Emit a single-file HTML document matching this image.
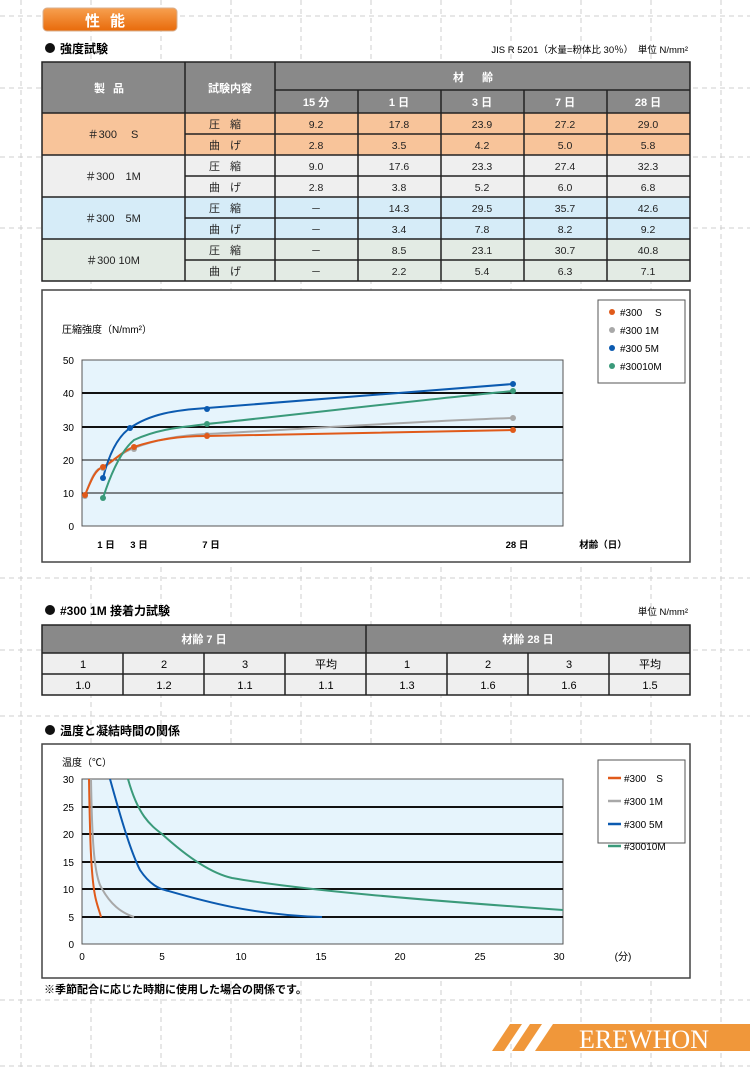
<!DOCTYPE html>
<html><head><meta charset="utf-8"><style>
body{margin:0;width:750px;height:1071px;position:relative;background:#fff;font-family:"Liberation Sans","Noto Sans CJK JP",sans-serif;color:#222;overflow:hidden}
.a{position:absolute}
svg text{font-family:"Liberation Sans","Noto Sans CJK JP",sans-serif}
</style></head><body>
<svg class="a" style="left:0;top:0" width="750" height="1071">
<g stroke="#cfcfcf" stroke-width="1" stroke-dasharray="5,4">
<line x1="21" y1="0" x2="21" y2="1071"/><line x1="91" y1="0" x2="91" y2="1071"/><line x1="161" y1="0" x2="161" y2="1071"/><line x1="231" y1="0" x2="231" y2="1071"/><line x1="301" y1="0" x2="301" y2="1071"/><line x1="371" y1="0" x2="371" y2="1071"/><line x1="441" y1="0" x2="441" y2="1071"/><line x1="511" y1="0" x2="511" y2="1071"/><line x1="581" y1="0" x2="581" y2="1071"/><line x1="651" y1="0" x2="651" y2="1071"/><line x1="721" y1="0" x2="721" y2="1071"/>
<line x1="0" y1="16" x2="750" y2="16"/><line x1="0" y1="88" x2="750" y2="88"/><line x1="0" y1="157" x2="750" y2="157"/><line x1="0" y1="228" x2="750" y2="228"/><line x1="0" y1="578" x2="750" y2="578"/><line x1="0" y1="650" x2="750" y2="650"/><line x1="0" y1="716" x2="750" y2="716"/><line x1="0" y1="1000" x2="750" y2="1000"/><line x1="0" y1="1066" x2="750" y2="1066"/>
</g>
<defs><linearGradient id="og" x1="0" y1="0" x2="0" y2="1"><stop offset="0" stop-color="#f7a050"/><stop offset="1" stop-color="#e86a0a"/></linearGradient></defs>
<rect x="43" y="8" width="134" height="23" rx="4" fill="url(#og)" stroke="#d8b090"/>
<text x="110" y="26" font-size="15" font-weight="bold" fill="#fff" text-anchor="middle" letter-spacing="10">性能</text>
<circle cx="50" cy="48" r="5" fill="#111"/>
<text x="60" y="53" font-size="12" font-weight="bold">強度試験</text>
<text x="688" y="53" font-size="9.5" text-anchor="end">JIS R 5201（水量=粉体比 30％）　単位 N/mm²</text>

<rect x="42" y="62" width="648" height="51" fill="#898989"/>
<rect x="42" y="113" width="648" height="42" fill="#f8c49a"/>
<rect x="42" y="155" width="648" height="42" fill="#efefef"/>
<rect x="42" y="197" width="648" height="42" fill="#d6ecf8"/>
<rect x="42" y="239" width="648" height="42" fill="#e3ebe4"/>
<g stroke="#222" stroke-width="1.5" fill="none">
<rect x="42" y="62" width="648" height="219"/>
<line x1="185" y1="62" x2="185" y2="281"/><line x1="275" y1="62" x2="275" y2="281"/>
<line x1="358" y1="90" x2="358" y2="281"/><line x1="441" y1="90" x2="441" y2="281"/><line x1="524" y1="90" x2="524" y2="281"/><line x1="607" y1="90" x2="607" y2="281"/>
<line x1="275" y1="90" x2="690" y2="90"/>
<line x1="42" y1="113" x2="690" y2="113"/><line x1="42" y1="155" x2="690" y2="155"/><line x1="42" y1="197" x2="690" y2="197"/><line x1="42" y1="239" x2="690" y2="239"/>
<line x1="185" y1="134" x2="690" y2="134"/><line x1="185" y1="176" x2="690" y2="176"/><line x1="185" y1="218" x2="690" y2="218"/><line x1="185" y1="260" x2="690" y2="260"/>
</g>
<g font-size="11" fill="#fff" font-weight="bold" text-anchor="middle">
<text x="113" y="92" letter-spacing="8">製品</text><text x="230" y="92">試験内容</text><text x="482" y="81" letter-spacing="18">材齢</text>
<text x="316" y="106">15 分</text><text x="399" y="106">1 日</text><text x="482" y="106">3 日</text><text x="565" y="106">7 日</text><text x="648" y="106">28 日</text>
</g>
<g font-size="11" text-anchor="middle" fill="#222">
<text x="113" y="138">＃300　 S</text><text x="113" y="180">＃300　1M</text><text x="113" y="222">＃300　5M</text><text x="113" y="264">＃300 10M</text>
<text x="230" y="128" letter-spacing="10">圧縮</text><text x="230" y="149" letter-spacing="10">曲げ</text>
<text x="230" y="170" letter-spacing="10">圧縮</text><text x="230" y="191" letter-spacing="10">曲げ</text>
<text x="230" y="212" letter-spacing="10">圧縮</text><text x="230" y="233" letter-spacing="10">曲げ</text>
<text x="230" y="254" letter-spacing="10">圧縮</text><text x="230" y="275" letter-spacing="10">曲げ</text>
<g font-size="10.5">
<text x="316" y="128">9.2</text><text x="399" y="128">17.8</text><text x="482" y="128">23.9</text><text x="565" y="128">27.2</text><text x="648" y="128">29.0</text>
<text x="316" y="149">2.8</text><text x="399" y="149">3.5</text><text x="482" y="149">4.2</text><text x="565" y="149">5.0</text><text x="648" y="149">5.8</text>
<text x="316" y="170">9.0</text><text x="399" y="170">17.6</text><text x="482" y="170">23.3</text><text x="565" y="170">27.4</text><text x="648" y="170">32.3</text>
<text x="316" y="191">2.8</text><text x="399" y="191">3.8</text><text x="482" y="191">5.2</text><text x="565" y="191">6.0</text><text x="648" y="191">6.8</text>
<text x="316" y="212">－</text><text x="399" y="212">14.3</text><text x="482" y="212">29.5</text><text x="565" y="212">35.7</text><text x="648" y="212">42.6</text>
<text x="316" y="233">－</text><text x="399" y="233">3.4</text><text x="482" y="233">7.8</text><text x="565" y="233">8.2</text><text x="648" y="233">9.2</text>
<text x="316" y="254">－</text><text x="399" y="254">8.5</text><text x="482" y="254">23.1</text><text x="565" y="254">30.7</text><text x="648" y="254">40.8</text>
<text x="316" y="275">－</text><text x="399" y="275">2.2</text><text x="482" y="275">5.4</text><text x="565" y="275">6.3</text><text x="648" y="275">7.1</text>
</g></g>

<rect x="42" y="290" width="648" height="272" fill="#fff" stroke="#444" stroke-width="1.5"/>
<rect x="82" y="360" width="481" height="166" fill="#e6f4fc" stroke="#555"/>
<g stroke="#111"><line x1="82" y1="393" x2="563" y2="393" stroke-width="2"/><line x1="82" y1="427" x2="563" y2="427" stroke-width="2"/><line x1="82" y1="460" x2="563" y2="460"/><line x1="82" y1="493" x2="563" y2="493"/></g>
<g font-size="10" text-anchor="end"><text x="74" y="364">50</text><text x="74" y="397">40</text><text x="74" y="431">30</text><text x="74" y="464">20</text><text x="74" y="497">10</text><text x="74" y="530">0</text></g>
<text x="62" y="333" font-size="10">圧縮強度（N/mm²）</text>
<g font-size="9.5" font-weight="bold" text-anchor="middle"><text x="106" y="548">1 日</text><text x="139" y="548">3 日</text><text x="211" y="548">7 日</text><text x="517" y="548">28 日</text><text x="603" y="548">材齢（日）</text></g>
<g fill="none" stroke-width="2">
<path d="M85,496 C92,475 97,467 103,468 C112,462 122,452 134,448 C160,438 185,435 207,434 C320,428 420,421 513,418" stroke="#a8a8a8"/>
<path d="M85,495 C92,478 96,469 103,467 C115,460 124,450 134,447 C160,438 185,436 207,436 C320,434 420,432 513,430" stroke="#e05a1a"/>
<path d="M103,478 C110,450 120,435 130,428 C150,414 175,410 207,408 C320,399 420,392 513,384" stroke="#0b5ab0"/>
<path d="M103,498 C112,470 122,450 134,440 C160,428 185,427 207,424 C320,412 420,400 513,391" stroke="#3a9a7a"/>
</g>
<g>
<circle cx="85" cy="496" r="3" fill="#a8a8a8"/><circle cx="103" cy="468" r="3" fill="#a8a8a8"/><circle cx="134" cy="449" r="3" fill="#a8a8a8"/><circle cx="207" cy="435" r="3" fill="#a8a8a8"/><circle cx="513" cy="418" r="3" fill="#a8a8a8"/>
<circle cx="85" cy="495" r="3" fill="#e05a1a"/><circle cx="103" cy="467" r="3" fill="#e05a1a"/><circle cx="134" cy="447" r="3" fill="#e05a1a"/><circle cx="207" cy="436" r="3" fill="#e05a1a"/><circle cx="513" cy="430" r="3" fill="#e05a1a"/>
<circle cx="103" cy="478" r="3" fill="#0b5ab0"/><circle cx="130" cy="428" r="3" fill="#0b5ab0"/><circle cx="207" cy="409" r="3" fill="#0b5ab0"/><circle cx="513" cy="384" r="3" fill="#0b5ab0"/>
<circle cx="103" cy="498" r="3" fill="#3a9a7a"/><circle cx="207" cy="424" r="3" fill="#3a9a7a"/><circle cx="513" cy="391" r="3" fill="#3a9a7a"/>
</g>
<rect x="598" y="300" width="87" height="83" fill="#fff" stroke="#555"/>
<g font-size="10"><circle cx="612" cy="312" r="3" fill="#e05a1a"/><text x="620" y="316">#300　 S</text>
<circle cx="612" cy="330" r="3" fill="#a8a8a8"/><text x="620" y="334">#300  1M</text>
<circle cx="612" cy="348" r="3" fill="#0b5ab0"/><text x="620" y="352">#300  5M</text>
<circle cx="612" cy="366" r="3" fill="#3a9a7a"/><text x="620" y="370">#30010M</text></g>

<circle cx="50" cy="610" r="5" fill="#111"/>
<text x="60" y="615" font-size="12" font-weight="bold">#300 1M 接着力試験</text>
<text x="688" y="615" font-size="9.5" text-anchor="end">単位 N/mm²</text>
<rect x="42" y="625" width="648" height="28" fill="#898989"/>
<rect x="42" y="653" width="648" height="42" fill="#efefef"/>
<g stroke="#222" stroke-width="1.5" fill="none">
<rect x="42" y="625" width="648" height="70"/>
<line x1="366" y1="625" x2="366" y2="695"/><line x1="42" y1="653" x2="690" y2="653"/><line x1="42" y1="674" x2="690" y2="674"/>
<line x1="123" y1="653" x2="123" y2="695"/><line x1="204" y1="653" x2="204" y2="695"/><line x1="285" y1="653" x2="285" y2="695"/><line x1="447" y1="653" x2="447" y2="695"/><line x1="528" y1="653" x2="528" y2="695"/><line x1="609" y1="653" x2="609" y2="695"/>
</g>
<g font-size="11" text-anchor="middle"><text x="204" y="643" fill="#fff" font-weight="bold">材齢 7 日</text><text x="528" y="643" fill="#fff" font-weight="bold">材齢 28 日</text>
<text x="83" y="668">1</text><text x="164" y="668">2</text><text x="245" y="668">3</text><text x="326" y="668">平均</text><text x="407" y="668">1</text><text x="488" y="668">2</text><text x="569" y="668">3</text><text x="650" y="668">平均</text>
<text x="83" y="689">1.0</text><text x="164" y="689">1.2</text><text x="245" y="689">1.1</text><text x="326" y="689">1.1</text><text x="407" y="689">1.3</text><text x="488" y="689">1.6</text><text x="569" y="689">1.6</text><text x="650" y="689">1.5</text></g>

<circle cx="50" cy="730" r="5" fill="#111"/>
<text x="60" y="735" font-size="12" font-weight="bold">温度と凝結時間の関係</text>
<rect x="42" y="744" width="648" height="234" fill="#fff" stroke="#444" stroke-width="1.5"/>
<rect x="82" y="779" width="481" height="165" fill="#e6f4fc" stroke="#555"/>
<g stroke="#111" stroke-width="2"><line x1="82" y1="807" x2="563" y2="807"/><line x1="82" y1="834" x2="563" y2="834"/><line x1="82" y1="862" x2="563" y2="862"/><line x1="82" y1="889" x2="563" y2="889"/><line x1="82" y1="917" x2="563" y2="917"/></g>
<g font-size="10" text-anchor="end"><text x="74" y="783">30</text><text x="74" y="811">25</text><text x="74" y="838">20</text><text x="74" y="866">15</text><text x="74" y="893">10</text><text x="74" y="921">5</text><text x="74" y="948">0</text></g>
<g font-size="10" text-anchor="middle"><text x="82" y="960">0</text><text x="162" y="960">5</text><text x="241" y="960">10</text><text x="321" y="960">15</text><text x="400" y="960">20</text><text x="480" y="960">25</text><text x="559" y="960">30</text><text x="623" y="960">(分)</text></g>
<text x="62" y="766" font-size="10">温度（℃）</text>
<g fill="none" stroke-width="2">
<path d="M89,779 C90,840 91,880 96,900 C98,908 100,913 101,917" stroke="#e05a1a"/>
<path d="M91,779 C92,840 94,870 100,885 C110,905 122,913 134,917" stroke="#a8a8a8"/>
<path d="M110,779 C120,815 130,850 140,870 C150,885 160,889 165,890 C200,900 250,915 322,917" stroke="#0b5ab0"/>
<path d="M128,779 C138,815 150,825 162,834 C185,855 210,873 232,878 C300,890 420,900 563,910" stroke="#3a9a7a"/>
</g>
<rect x="598" y="760" width="87" height="83" fill="#fff" stroke="#555"/>
<g font-size="10"><line x1="608" y1="778" x2="621" y2="778" stroke="#e05a1a" stroke-width="2.5"/><text x="624" y="782">#300　S</text>
<line x1="608" y1="801" x2="621" y2="801" stroke="#a8a8a8" stroke-width="2.5"/><text x="624" y="805">#300  1M</text>
<line x1="608" y1="824" x2="621" y2="824" stroke="#0b5ab0" stroke-width="2.5"/><text x="624" y="828">#300  5M</text>
<line x1="608" y1="846" x2="621" y2="846" stroke="#3a9a7a" stroke-width="2.5"/><text x="624" y="850">#30010M</text></g>
<text x="44" y="993" font-size="11" font-weight="bold">※季節配合に応じた時期に使用した場合の関係です。</text>

<polygon points="510,1024 522,1024 504,1051 492,1051" fill="#f0973a"/>
<polygon points="530,1024 542,1024 524,1051 512,1051" fill="#f0973a"/>
<polygon points="553,1024 750,1024 750,1051 535,1051" fill="#f0973a"/>
<text x="644" y="1048" font-size="26" fill="#fff" text-anchor="middle" style="font-family:'Liberation Serif',serif">EREWHON</text>
</svg>
</body></html>
